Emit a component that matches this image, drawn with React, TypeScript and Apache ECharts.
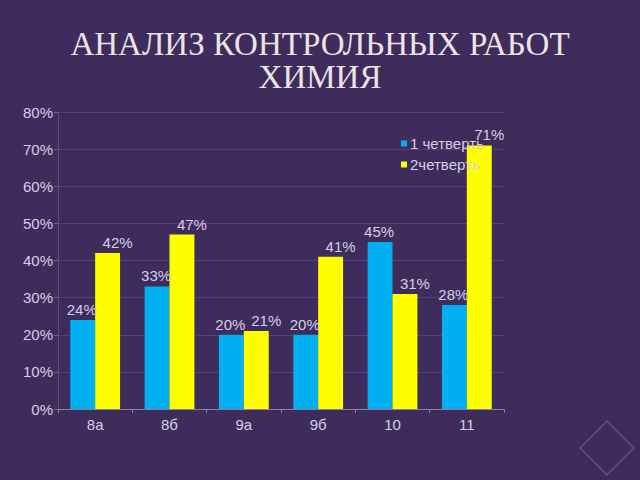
import React, { useEffect, useRef } from "react";
import * as echarts from "echarts";

const categories = ["8а", "8б", "9а", "9б", "10", "11"];
const quarter1 = [24, 33, 20, 20, 45, 28];
const quarter2 = [42, 47, 21, 41, 31, 71];
const seriesNames = ["1 четверть", "2четверть"];
const titleLines = ["АНАЛИЗ КОНТРОЛЬНЫХ РАБОТ", "ХИМИЯ"];

export default function App() {
  const ref = useRef<HTMLDivElement>(null);
  useEffect(() => {
    if (!ref.current) return;
    const chart = echarts.init(ref.current, undefined, { renderer: "svg" });
    const labelColor = "#d6cfe2";
    const font = "Liberation Sans";
    chart.setOption({
      animation: false,
      backgroundColor: "#3e2c5d",
      title: {
        text: titleLines.join("\n"),
        left: "center",
        top: 22,
        textStyle: {
          color: "#ece4e4",
          fontFamily: "Liberation Serif",
          fontWeight: "normal",
          fontSize: 33,
          lineHeight: 33,
        },
      },
      legend: {
        orient: "vertical",
        left: 396,
        top: 131,
        itemWidth: 6,
        itemHeight: 6,
        itemGap: 6,
        icon: "rect",
        textStyle: { color: labelColor, fontFamily: font, fontSize: 15, padding: [0, 0, 0, -2] },
        data: seriesNames,
      },
      grid: { left: 58, right: 136, top: 112, bottom: 71, containLabel: false },
      xAxis: {
        type: "category",
        data: categories,
        axisLine: { lineStyle: { color: "#8a7fa0" } },
        axisTick: { show: true, length: 4, lineStyle: { color: "#8a7fa0" } },
        axisLabel: { color: labelColor, fontFamily: font, fontSize: 15, margin: 8 },
      },
      yAxis: {
        type: "value",
        min: 0,
        max: 80,
        interval: 10,
        axisLine: { show: true, lineStyle: { color: "#5e4f7a" } },
        axisTick: { show: true, length: 4, lineStyle: { color: "#6e6088" } },
        splitLine: { lineStyle: { color: "#51437a", width: 1 } },
        axisLabel: { formatter: "{value}%", color: labelColor, fontFamily: font, fontSize: 15, margin: 5 },
      },
      series: [
        {
          name: seriesNames[0],
          type: "bar",
          data: quarter1,
          barGap: "0%",
          barCategoryGap: "33%",
          itemStyle: { color: "#00b0f0" },
          label: {
            show: true,
            position: "top",
            formatter: "{c}%",
            color: labelColor,
            fontFamily: font,
            fontSize: 15,
            distance: 3,
            offset: [-1, 0],
          },
        },
        {
          name: seriesNames[1],
          type: "bar",
          data: quarter2,
          itemStyle: { color: "#ffff00" },
          label: {
            show: true,
            position: "top",
            formatter: "{c}%",
            color: labelColor,
            fontFamily: font,
            fontSize: 15,
            distance: 3,
            offset: [10, 0],
          },
        },
      ],
      graphic: [
        {
          type: "rect",
          x: 607,
          y: 448,
          rotation: Math.PI / 4,
          shape: { x: -19, y: -19, width: 38, height: 38 },
          style: { fill: "none", stroke: "#5f5082", lineWidth: 1.5 },
        },
      ],
    });
    return () => chart.dispose();
  }, []);
  return <div ref={ref} style={{ width: 640, height: 480, position: "absolute", left: 0, top: 0 }} />;
}
